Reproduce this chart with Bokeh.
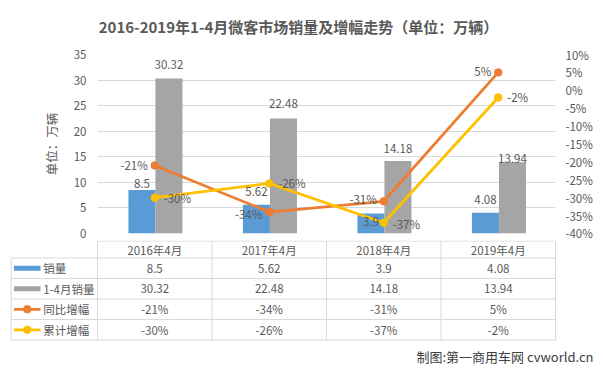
from bokeh.plotting import figure
from bokeh.models import (Range1d, LinearAxis, FixedTicker, PrintfTickFormatter,
                          ColumnDataSource)
from bokeh.core.properties import value
from bokeh.embed import file_html
from bokeh.resources import INLINE

# ---------------- data ----------------
categories = ["2016年4月", "2017年4月", "2018年4月", "2019年4月"]
sales = [8.5, 5.62, 3.9, 4.08]            # 销量 (万辆)
sales_ytd = [30.32, 22.48, 14.18, 13.94]  # 1-4月销量 (万辆)
yoy_growth = [-21, -34, -31, 5]           # 同比增幅 (%)
ytd_growth = [-30, -26, -37, -2]          # 累计增幅 (%)
series_names = ["销量", "1-4月销量", "同比增幅", "累计增幅"]
left_ticks = [0, 5, 10, 15, 20, 25, 30, 35]
right_ticks = [-40, -35, -30, -25, -20, -15, -10, -5, 0, 5, 10]
title_text = "2016-2019年1-4月微客市场销量及增幅走势（单位：万辆）"
y_axis_title = "单位：万辆"
credit_text = "制图:第一商用车网 cvworld.cn"

# ---------------- styles ----------------
FONT = "Noto Sans CJK SC"
TXT = "#595959"
BLUE, GREY, ORANGE, YELLOW = "#5B9BD5", "#A5A5A5", "#ED7D31", "#FFC000"
GRID = "#D9D9D9"
FS = "11.5px"

W = 600
CAT_PX = 114.5            # pixel width of one category
FRAME_LEFT_PX = 97        # frame left offset inside figure
FRAME_RIGHT_PX = W - 555
TITLE_H = 40
FRAME_TOP_PX = 54
FRAME_H = 179
TOP_H = 240 - TITLE_H

n = len(categories)
xc = [i + 0.5 for i in range(n)]

# label offsets (pixels) – styling only
bar1_dy = [-7, -13, 8, -13]
bar2_dy = [-14, -15, -12, -4]
yoy_dy = [0, 2, -2, -1]
ytd_dy = [0, 0, 1, 0]


def bare(height, x_range, y_range):
    f = figure(width=W, height=height, x_range=x_range, y_range=y_range,
               output_backend="svg", toolbar_location=None, title=None,
               x_axis_location=None, y_axis_location=None,
               min_border_left=0, min_border_right=0, min_border_top=0, min_border_bottom=0)
    f.outline_line_color = None
    f.grid.visible = False
    f.background_fill_color = "white"
    f.border_fill_color = "white"
    return f


# ---------------- title ----------------
ttl = bare(TITLE_H, Range1d(0, W), Range1d(TITLE_H, 0))
ttl.text(x=[298], y=[26], text=[title_text], text_align="center", text_baseline="middle",
         text_font=value(FONT), text_font_size=value("15px"), text_font_style="bold",
         text_color=TXT)

# ---------------- top chart ----------------
top = figure(width=W, height=TOP_H, x_range=Range1d(0, n), y_range=Range1d(0, 35),
             output_backend="svg", toolbar_location=None, title=None,
             x_axis_location=None,
             min_border_left=FRAME_LEFT_PX, min_border_right=FRAME_RIGHT_PX,
             min_border_top=FRAME_TOP_PX - TITLE_H,
             min_border_bottom=TOP_H - (FRAME_TOP_PX - TITLE_H) - FRAME_H)
top.outline_line_color = None
top.background_fill_color = "white"
top.border_fill_color = "white"
top.extra_y_ranges = {"pct": Range1d(-40, 10)}
top.xgrid.visible = False
top.ygrid.ticker = FixedTicker(ticks=left_ticks)
top.ygrid.grid_line_color = GRID

ya = top.yaxis[0]
ya.ticker = FixedTicker(ticks=left_ticks)
ya.axis_line_color = None
ya.major_tick_line_color = None
ya.minor_tick_line_color = None
ya.major_tick_out = 0
ya.major_tick_in = 0
ya.major_label_standoff = 11
ya.major_label_text_font = FONT
ya.major_label_text_font_size = FS
ya.major_label_text_color = TXT
ya.axis_label = y_axis_title
ya.axis_label_text_font = FONT
ya.axis_label_text_font_size = "12.5px"
ya.axis_label_text_font_style = "normal"
ya.axis_label_text_color = TXT
ya.axis_label_standoff = 10

ra = LinearAxis(y_range_name="pct", ticker=FixedTicker(ticks=right_ticks),
                formatter=PrintfTickFormatter(format="%d%%"))
ra.axis_line_color = None
ra.major_tick_line_color = None
ra.minor_tick_line_color = None
ra.major_tick_out = 0
ra.major_tick_in = 0
ra.major_label_standoff = 10
ra.major_label_text_font = FONT
ra.major_label_text_font_size = FS
ra.major_label_text_color = TXT
top.add_layout(ra, "right")

bar_w = 0.236
top.vbar(x=[x - 0.112 for x in xc], top=sales, width=bar_w, color=BLUE, line_color=None)
top.vbar(x=[x + 0.124 for x in xc], top=sales_ytd, width=bar_w, color=GREY, line_color=None)

top.line(xc, yoy_growth, y_range_name="pct", line_color=ORANGE, line_width=2.75)
top.scatter(xc, yoy_growth, y_range_name="pct", size=7.5, color=ORANGE)
top.line(xc, ytd_growth, y_range_name="pct", line_color=YELLOW, line_width=2.75)
top.scatter(xc, ytd_growth, y_range_name="pct", size=7.5, color=YELLOW)

lbl_common = dict(text_font=value(FONT), text_font_size=value(FS), text_color=TXT,
                  text_baseline="middle")
s1 = ColumnDataSource(dict(x=[x - 0.112 for x in xc], y=sales,
                           t=[f"{v:g}" for v in sales], dy=bar1_dy))
top.text("x", "y", text="t", y_offset="dy", source=s1, text_align="center", **lbl_common)
s2 = ColumnDataSource(dict(x=[x + 0.124 for x in xc], y=sales_ytd,
                           t=[f"{v:g}" for v in sales_ytd], dy=bar2_dy))
top.text("x", "y", text="t", y_offset="dy", source=s2, text_align="center", **lbl_common)
s3 = ColumnDataSource(dict(x=xc, y=yoy_growth, t=[f"{v}%" for v in yoy_growth], dy=yoy_dy))
top.text("x", "y", text="t", y_offset="dy", x_offset=-7, source=s3, y_range_name="pct",
         text_align="right", **lbl_common)
s4 = ColumnDataSource(dict(x=xc, y=ytd_growth, t=[f"{v}%" for v in ytd_growth], dy=ytd_dy))
top.text("x", "y", text="t", y_offset="dy", x_offset=9, source=s4, y_range_name="pct",
         text_align="left", **lbl_common)

# ---------------- data table ----------------
Y0 = 240   # page y of the table figure's top edge
BH = 368 - Y0
bot = bare(BH, Range1d(-FRAME_LEFT_PX / CAT_PX, n + FRAME_RIGHT_PX / CAT_PX),
           Range1d(BH, 0))


def px(xpage):
    return (xpage - FRAME_LEFT_PX) / CAT_PX


T0 = 240.5 - Y0
HEAD_H = 17.0
ROW_H = 20.5
row_lines = [T0 + HEAD_H + ROW_H * k for k in range(len(series_names) + 1)]
table_bottom = row_lines[-1]

# horizontal lines
hx0 = [0] + [px(10.7)] * len(row_lines)
hx1 = [n] * (len(row_lines) + 1)
hy = [T0] + row_lines
bot.segment(x0=hx0, y0=hy, x1=hx1, y1=hy, line_color=GRID, line_width=1)
# vertical lines
vx = [px(10.7)] + list(range(n + 1))
vy0 = [row_lines[0]] + [T0] * (n + 1)
vy1 = [table_bottom] * (n + 2)
bot.segment(x0=vx, y0=vy0, x1=vx, y1=vy1, line_color=GRID, line_width=1)

tcommon = dict(text_font=value(FONT), text_font_size=value(FS), text_color=TXT,
               text_baseline="middle")
# header
bot.text(x=xc, y=[T0 + HEAD_H / 2] * n, text=categories, text_align="center", **tcommon)
# rows
rows = [[f"{v:g}" for v in sales], [f"{v:g}" for v in sales_ytd],
        [f"{v}%" for v in yoy_growth], [f"{v}%" for v in ytd_growth]]
row_centers = [row_lines[k] + ROW_H / 2 for k in range(len(series_names))]
for k, r in enumerate(rows):
    bot.text(x=xc, y=[row_centers[k]] * n, text=r, text_align="center", **tcommon)
# legend names
bot.text(x=[px(42.7)] * len(series_names), y=row_centers, text=series_names,
         text_align="left", **tcommon)
# legend keys
sw_x0, sw_x1 = px(13.5), px(40)
bot.quad(left=[sw_x0, sw_x0], right=[sw_x1, sw_x1],
         top=[row_centers[0] - 2.5, row_centers[1] - 2.5],
         bottom=[row_centers[0] + 2.5, row_centers[1] + 2.5],
         fill_color=[BLUE, GREY], line_color=None)
for k, c in ((2, ORANGE), (3, YELLOW)):
    bot.line([sw_x0, sw_x1], [row_centers[k]] * 2, line_color=c, line_width=2.75)
    bot.scatter([(sw_x0 + sw_x1) / 2], [row_centers[k]], size=7.5, color=c)

# credit
bot.text(x=[px(593)], y=[356 - Y0], text=[credit_text], text_align="right",
         text_font=value(FONT), text_font_size=value("13px"), text_color="#404040",
         text_baseline="middle")

open("out.html", "w").write(file_html([ttl, top, bot], INLINE))
